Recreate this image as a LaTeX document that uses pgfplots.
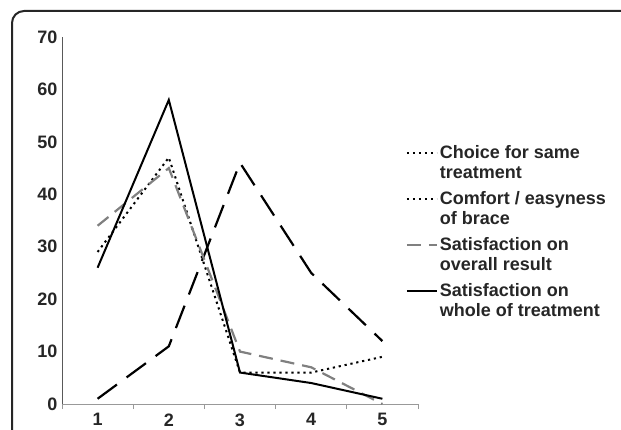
\documentclass[border=0pt]{standalone}
\usepackage{fontspec}
\setmainfont{Liberation Sans}
\usepackage{pgfplots}
\pgfplotsset{compat=1.18}
\begin{document}
\begin{tikzpicture}
\clip (0pt,0pt) rectangle (621pt,429pt);
\draw[line width=2pt, black!85, rounded corners=12pt] (12pt,-20pt) -- (12pt,418pt) -- (660pt,418pt);
\begin{axis}[
  at={(62pt,25pt)}, anchor=south west, scale only axis,
  width=356pt, height=367pt,
  xmin=0.5, xmax=5.5, ymin=0, ymax=70,
  axis x line=bottom, axis y line=left,
  axis line style={-},
  x axis line style={black!40, line width=1pt},
  y axis line style={black!65, line width=1pt},
  xtick={1,...,5}, minor xtick={0.5,1.5,...,5.5},
  ytick={0,10,...,70},
  major tick length=0pt, minor tick length=5pt, tick align=outside,
  minor tick style={black!40, line width=0.8pt},
  /pgf/number format/assume math mode=true,
  ticklabel style={font=\fontsize{18}{20}\selectfont\bfseries, text=black!85},
  xticklabel style={yshift=-6pt},
  yticklabel style={xshift=-1pt},
  legend cell align=left,
  legend image code/.code={\draw[#1] (0pt,10pt) -- (30pt,10pt);},
  legend style={at={(0.965,0.71)}, anchor=north west, draw=none, fill=none,
    inner sep=0pt, row sep=7.5pt,
    font=\fontsize{18}{20}\selectfont\bfseries, text=black!85,
    cells={align=left}},
]
\addplot[black, line width=2pt, dash pattern=on 2.2pt off 3.8pt] coordinates {(1,29) (2,47) (3,6) (4,6) (5,9)};
\addlegendentry{Choice for same\\treatment}
\addplot[black, line width=2.2pt, dash pattern=on 24pt off 12pt, legend image post style={dash pattern=on 2.2pt off 3.8pt, line width=2pt}] coordinates {(1,1) (2,11) (3,46) (4,25) (5,12)};
\addlegendentry{Comfort / easyness\\of brace}
\addplot[black!50, line width=2.2pt, dash pattern=on 14pt off 8pt] coordinates {(1,34) (2,45) (3,10) (4,7) (5,0)};
\addlegendentry{Satisfaction on\\overall result}
\addplot[black, line width=2pt] coordinates {(1,26) (2,58) (3,6) (4,4) (5,1)};
\addlegendentry{Satisfaction on\\whole of treatment}
\end{axis}
\end{tikzpicture}
\end{document}
